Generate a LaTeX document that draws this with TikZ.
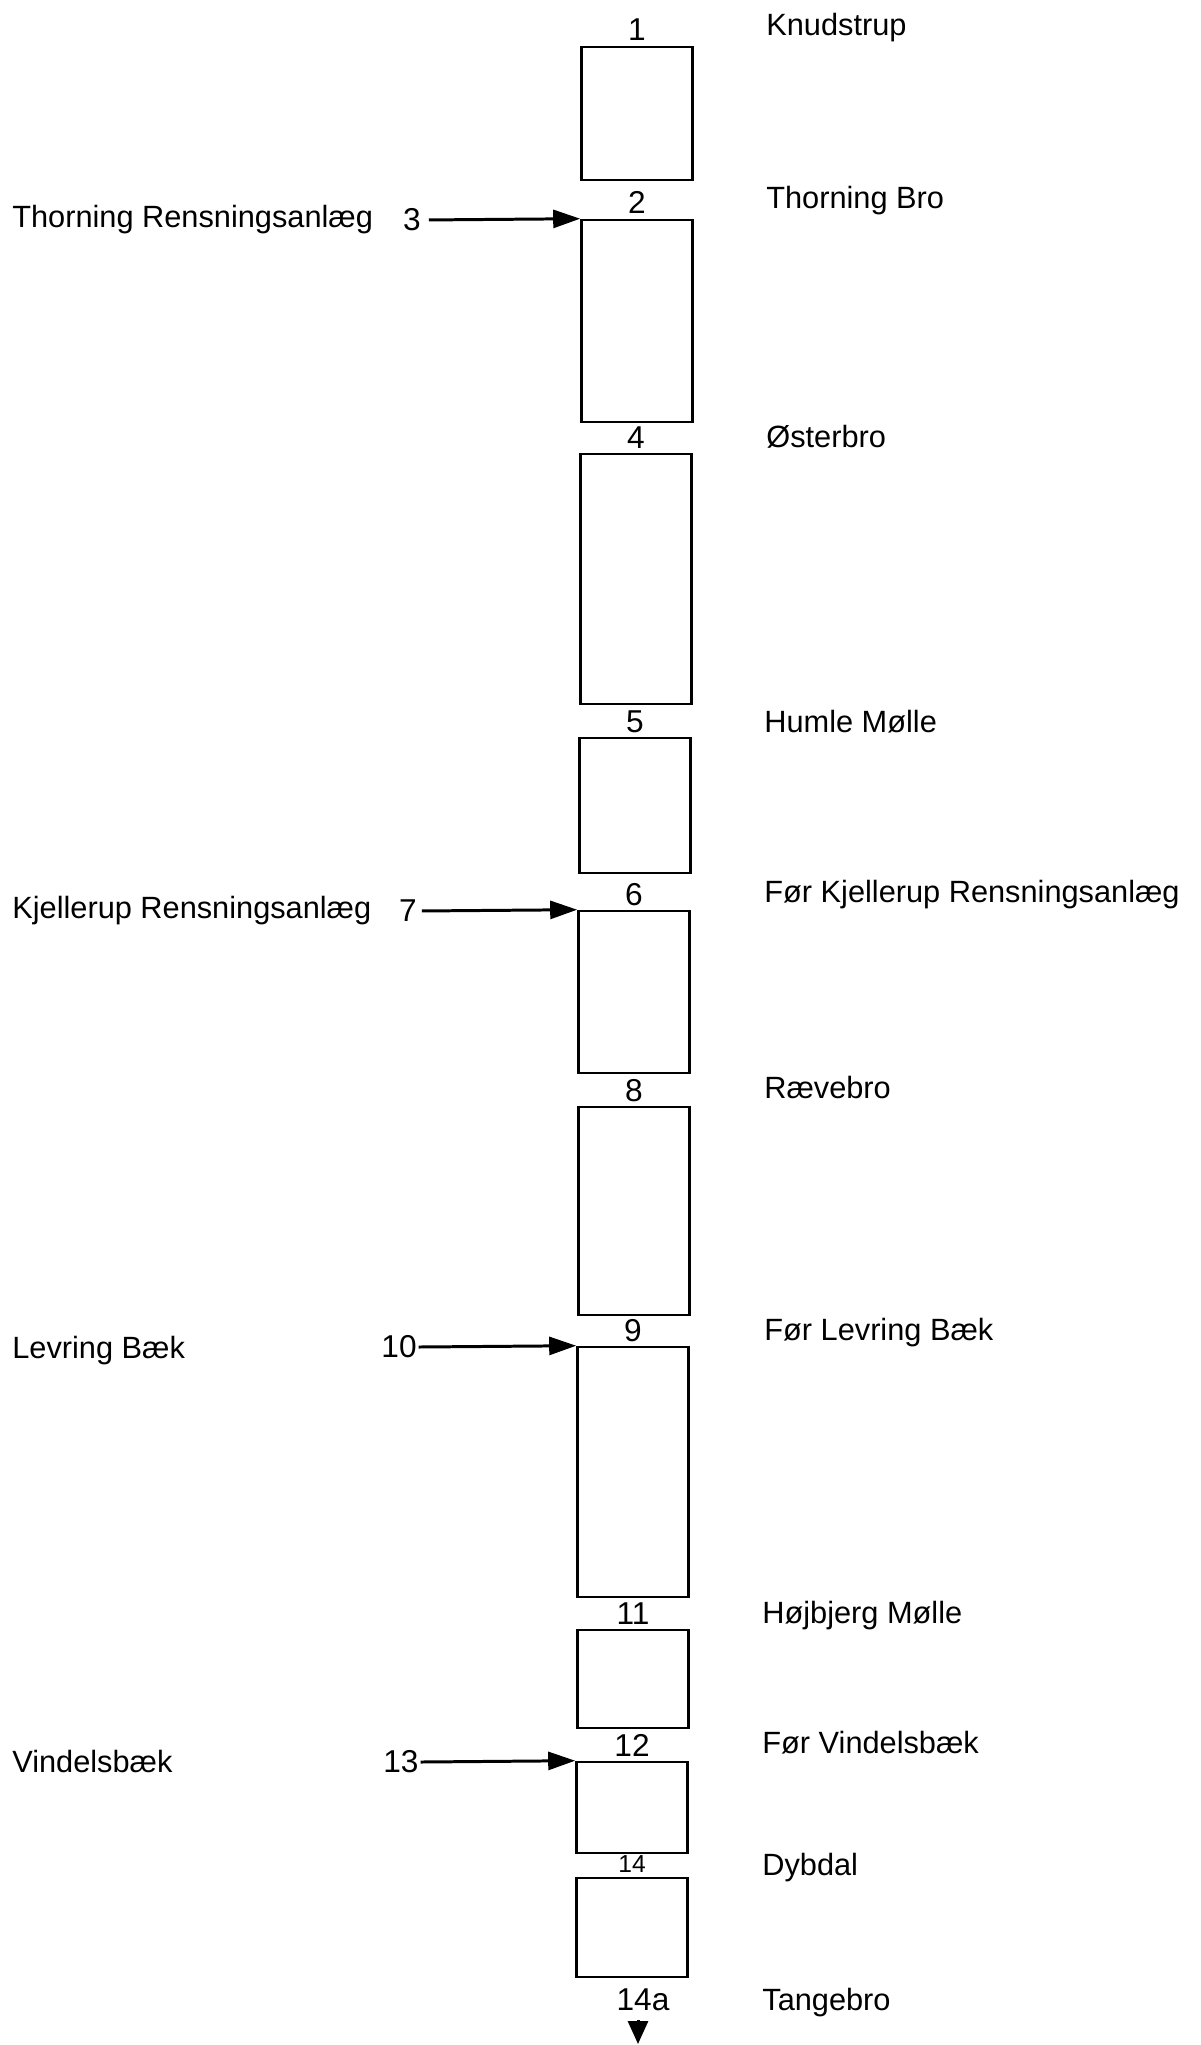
\documentclass[tikz,border=0pt]{standalone}
\usepackage{fontspec}
\setmainfont{Liberation Sans}
\usetikzlibrary{positioning, arrows.meta}

\begin{document}
\begin{tikzpicture}[
        x=0.02cm, y=-0.02cm,
        reach/.style={rectangle, draw, line width=1.5pt, minimum width=2.22cm, inner sep=0pt},
        num/.style={inner sep=1pt, font=\fontsize{18}{21}\selectfont},
        site/.style={anchor=base west, inner sep=0pt, font=\fontsize{17.5}{20}\selectfont},
        feed/.style={line width=1.7pt, -{Triangle[length=0.54cm, width=0.36cm]}},
    ]
        \useasboundingbox (0,0) rectangle (1200,2045);

        % Stream reaches
        \node[reach, minimum height=2.66cm] (r1) at (637,113.5) {};
        \node[reach, minimum height=4.04cm] (r2) at (637,321) {};
        \node[reach, minimum height=5.00cm] (r3) at (636,579) {};
        \node[reach, minimum height=2.70cm] (r4) at (635,805.5) {};
        \node[reach, minimum height=3.24cm] (r5) at (634,992) {};
        \node[reach, minimum height=4.16cm] (r6) at (634,1211) {};
        \node[reach, minimum height=5.00cm] (r7) at (633,1472) {};
        \node[reach, minimum height=1.96cm] (r8) at (633,1679) {};
        \node[reach, minimum height=1.82cm] (r9) at (632,1807.5) {};
        \node[reach, minimum height=1.98cm] (r10) at (632,1927.5) {};

        % Station numbers
        \node[num, above=0.06cm of r1] (n1) {1};
        \node[num, above=0.06cm of r2] (n2) {2};
        \node[num, above=0.04cm of r3] (n4) {4};
        \node[num, above=0.04cm of r4] (n5) {5};
        \node[num, above=0.04cm of r5] (n6) {6};
        \node[num, above=0.04cm of r6] (n8) {8};
        \node[num, above=0.04cm of r7] (n9) {9};
        \node[num, above=0.04cm of r8] (n11) {11};
        \node[num, above=0.04cm of r9] (n12) {12};
        \node[num, above=0.04cm of r10, font=\fontsize{14}{16}\selectfont] (n14) {14};
        \node[num] (n14a) at (643,2000) {14a};

        % Station names
        \node[site] (s1) at (766,35) {Knudstrup};
        \node[site] (s2) at (766,208) {Thorning Bro};
        \node[site] (s4) at (766,447) {Østerbro};
        \node[site] (s5) at (764,732) {Humle Mølle};
        \node[site] (s6) at (764,902) {Før Kjellerup Rensningsanlæg};
        \node[site] (s8) at (764,1098) {Rævebro};
        \node[site] (s9) at (764,1340) {Før Levring Bæk};
        \node[site] (s11) at (762,1623) {Højbjerg Mølle};
        \node[site] (s12) at (762,1753) {Før Vindelsbæk};
        \node[site] (s14) at (762,1875) {Dybdal};
        \node[site] (s14a) at (762,2010) {Tangebro};

        % Inflows
        \node[site] (l3) at (12,227) {Thorning Rensningsanlæg};
        \node[site] (l7) at (12,918) {Kjellerup Rensningsanlæg};
        \node[site] (l10) at (12,1358) {Levring Bæk};
        \node[site] (l13) at (12,1772) {Vindelsbæk};
        \node[num] (n3) at (412,220) {3};
        \node[num] (n7) at (408,911) {7};
        \node[num] (n10) at (399,1347) {10};
        \node[num] (n13) at (401,1762) {13};

        \draw[feed, shorten <=0.12cm] (n3.east) -- (r2.north west);
        \draw[feed, shorten <=0.06cm] (n7.east) -- (r5.north west);
        \draw[feed] (n10.east) -- (r7.north west);
        \draw[feed] (n13.east) -- (r9.north west);

        % Outlet
        \coordinate (mouth) at (638,2044);
        \draw[line width=1.7pt, -{Triangle[length=0.46cm, width=0.4cm]}, shorten <=0.14cm] (n14a.south -| mouth) -- (mouth);
    \end{tikzpicture}
\end{document}
